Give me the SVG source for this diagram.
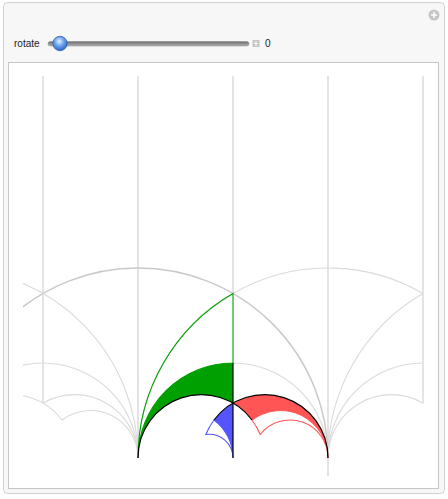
<svg xmlns="http://www.w3.org/2000/svg" width="448" height="499" viewBox="0 0 448 499">
  <defs>
    <radialGradient id="thumbG" cx="0.45" cy="0.35" r="0.65">
      <stop offset="0" stop-color="#e6f2ff"/>
      <stop offset="0.45" stop-color="#74a9f0"/>
      <stop offset="1" stop-color="#2b62c4"/>
    </radialGradient>
    <linearGradient id="trackG" x1="0" y1="0" x2="0" y2="1">
      <stop offset="0" stop-color="#6a6a6a"/>
      <stop offset="1" stop-color="#b4b4b4"/>
    </linearGradient>
    <clipPath id="plotClip">
      <rect x="23" y="70" width="410" height="410"/>
    </clipPath>
  </defs>
  <style>
    .vline { stroke: #dedede; stroke-width: 1.6; fill: none; }
    .garc { stroke: #dadada; stroke-width: 1.1; fill: none; }
    .garcD { stroke: #c9c9c9; stroke-width: 1.5; fill: none; }
    .blk { stroke: #000; stroke-width: 1.2; fill: none; }
    .lbl { font-family: "Liberation Sans", Arial, sans-serif; font-size: 10px; fill: #222; }
  </style>

  <!-- panel -->
  <g id="panel">
    <rect x="3.5" y="2.5" width="441" height="491" rx="4" fill="#f7f7f7" stroke="#d0d0d0"/>
    <rect x="8.5" y="62.5" width="430" height="426" fill="#ffffff" stroke="#c6c6c6"/>
    <g id="optionsIcon">
      <circle cx="434" cy="15" r="5.5" fill="#c6c6c6"/>
      <path d="M431 15 H437 M434 12 V18" stroke="#fff" stroke-width="1.5"/>
    </g>
  </g>

  <!-- control -->
  <g id="control">
    <text class="lbl" x="14" y="47">rotate</text>
    <rect x="48" y="41.5" width="201" height="4.5" rx="2.2" fill="url(#trackG)" stroke="#8a8a8a" stroke-width="0.5"/>
    <circle cx="60" cy="43.5" r="7.2" fill="url(#thumbG)" stroke="#2f5fb0" stroke-width="0.8"/>
    <rect x="252.5" y="40" width="7" height="7" fill="#c6c6c6"/>
    <path d="M253.8 43.5 H258.2 M256 41.3 V45.7" stroke="#fff" stroke-width="1.2"/>
    <text class="lbl" x="265" y="47">0</text>
  </g>

  <!-- gray tessellation -->
  <g id="grid" clip-path="url(#plotClip)">
    <path class="vline" d="M43 76 V403.15"/>
    <path class="vline" d="M138 76 V458"/>
    <path class="vline" d="M233 76 V293.46"/>
    <path class="vline" d="M328 76 V476"/>
    <path class="vline" d="M423 76 V403.15"/>

    <path class="garcD" d="M-52 458 A190 190 0 0 1 328 458"/>
    <path class="garc" d="M-242 458 A190 190 0 0 1 138 458"/>
    <path class="garc" d="M-52 458 A95 95 0 0 1 138 458"/>
    <path class="garc" d="M43 403.15 A63.333 63.333 0 0 1 138 458"/>
    <path class="garc" d="M-52 458 A63.333 63.333 0 0 1 62 420"/>
    <path class="garc" d="M62 420 A47.5 47.5 0 0 1 138 458"/>

    <path class="garc" d="M138 458 A190 190 0 0 1 423 293.46"/>
    <path class="garc" d="M233 363 A95 95 0 0 1 328 458"/>
    <path class="garc" d="M328 458 A190 190 0 0 1 423 293.46"/>
    <path class="garc" d="M328 458 A95 95 0 0 1 423 363"/>
    <path class="garc" d="M328 458 A63.333 63.333 0 0 1 423 403.15"/>
  </g>

  <!-- green domain -->
  <g id="green">
    <path d="M138 458 A95 95 0 0 1 233 363 L233 403.15 A63.333 63.333 0 0 0 138 458 Z" fill="#00a000"/>
    <path d="M138 458 A190 190 0 0 1 233 293.46 L233 363 A95 95 0 0 0 138 458 Z" fill="none" stroke="#00a000" stroke-width="1.1"/>
  </g>

  <!-- red domain -->
  <g id="red">
    <path d="M328 458 A47.5 47.5 0 0 0 252 420 A63.333 63.333 0 0 0 233 403.15 A63.333 63.333 0 0 1 328 458 Z" fill="#ff5555"/>
    <path d="M328 458 A38 38 0 0 0 260.14 434.49 A63.333 63.333 0 0 0 252 420 A47.5 47.5 0 0 1 328 458 Z" fill="none" stroke="#ff5555" stroke-width="1.1"/>
  </g>

  <!-- blue domain -->
  <g id="blue">
    <path d="M233 458 A47.5 47.5 0 0 0 214 420 A63.333 63.333 0 0 1 233 403.15 Z" fill="#5555ff"/>
    <path d="M233 458 A23.75 23.75 0 0 0 205.86 434.49 A63.333 63.333 0 0 1 214 420 A47.5 47.5 0 0 1 233 458 Z" fill="none" stroke="#5555ff" stroke-width="1.1"/>
  </g>

  <!-- black geodesics through the order-3 point -->
  <g id="connectors">
    <path class="blk" d="M233 363 V458"/>
    <path class="blk" d="M138 458 A63.333 63.333 0 0 1 252 420"/>
    <path class="blk" d="M214 420 A63.333 63.333 0 0 1 328 458"/>
  </g>
</svg>
